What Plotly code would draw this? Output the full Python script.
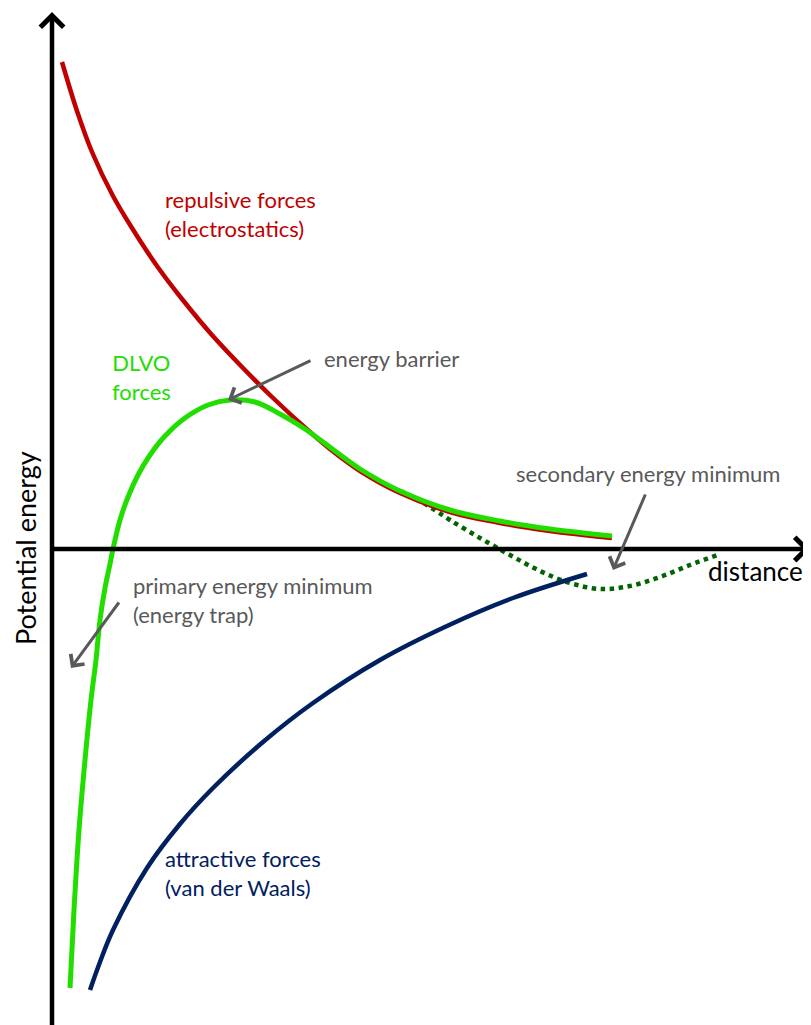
import plotly.graph_objects as go

# Chart units: distance (x) and potential energy (y); origin where the axes cross
repulsive_x = [10, 25, 40, 61, 80, 105, 130, 160, 190, 220, 258, 283, 308, 348, 398, 448, 498, 560]
repulsive_y = [487, 438, 397, 353, 321, 283, 250, 214, 182, 152, 117, 96, 78, 56, 37, 26, 18, 11]

dlvo_x = [18, 22, 27, 33, 39, 44, 48, 53, 58, 61, 68, 76, 86, 98, 113, 133, 156, 178, 203, 228, 253, 283, 308, 348, 398, 448, 498, 560]
dlvo_y = [-439, -361, -281, -211, -151, -111, -71, -39, -15, 0, 29, 52, 74, 94, 113, 131, 144, 149, 147, 135, 120, 98, 80, 58, 39, 28, 20, 13]

secondary_x = [348, 363, 378, 398, 428, 458, 488, 518, 548, 578, 608, 638, 668]
secondary_y = [58, 51, 42, 29, 11, -6, -22, -34, -40, -37, -28, -16, -5]

attractive_x = [38, 48, 61, 95, 128, 161, 211, 261, 328, 395, 461, 535]
attractive_y = [-441, -413, -381, -319, -275, -239, -193, -154, -111, -77, -49, -25]

FONT = "Lato"
RED = "#c00000"
GREEN = "#22dd00"
DKGREEN = "#006400"
NAVY = "#002060"
GREY = "#595959"

fig = go.Figure()
fig.add_trace(go.Scatter(x=secondary_x, y=secondary_y, mode="lines",
                         line=dict(color=DKGREEN, width=4.5, dash="dot", shape="spline"),
                         hoverinfo="skip"))
fig.add_trace(go.Scatter(x=repulsive_x, y=repulsive_y, mode="lines",
                         line=dict(color=RED, width=4.5, shape="spline"), hoverinfo="skip"))
fig.add_trace(go.Scatter(x=attractive_x, y=attractive_y, mode="lines",
                         line=dict(color=NAVY, width=4.5, shape="spline"), hoverinfo="skip"))
fig.add_trace(go.Scatter(x=dlvo_x, y=dlvo_y, mode="lines",
                         line=dict(color=GREEN, width=5, shape="spline"), hoverinfo="skip"))

ann = []
# axes with arrowheads
ann.append(dict(x=0, y=537, ax=0, ay=-484, xref="x", yref="y", axref="x", ayref="y",
                text="", showarrow=True, arrowhead=4, arrowwidth=4.5, arrowsize=1.0,
                arrowcolor="black", standoff=0, startstandoff=0))
ann.append(dict(x=758, y=0, ax=0, ay=0, xref="x", yref="y", axref="x", ayref="y",
                text="", showarrow=True, arrowhead=4, arrowwidth=4.5, arrowsize=1.0,
                arrowcolor="black", standoff=0, startstandoff=0))

# pointer arrows
for (hx, hy, tx, ty) in [(176, 149, 260, 189), (561, -21, 594, 56), (19, -119, 68, -52)]:
    ann.append(dict(x=hx, y=hy, ax=tx, ay=ty, xref="x", yref="y", axref="x", ayref="y",
                    text="", showarrow=True, arrowhead=4, arrowwidth=3, arrowsize=1.1,
                    arrowcolor=GREY, standoff=0, startstandoff=0))

def label(x, y, text, color, size=22, xanchor="left", align="left", angle=0):
    return dict(x=x, y=y, xref="x", yref="y", text=text, showarrow=False,
                xanchor=xanchor, yanchor="middle", align=align, textangle=angle,
                font=dict(family=FONT, size=size, color=color))

ann.append(label(111, 335, "repulsive forces<br>(electrostatics)", RED))
ann.append(label(89, 172, "DLVO<br>forces", GREEN, xanchor="center", align="center"))
ann.append(label(270, 191, "energy barrier", GREY))
ann.append(label(462, 76, "secondary energy minimum", GREY))
ann.append(label(79, -51, "primary energy minimum<br>(energy trap)", GREY))
ann.append(label(111, -324, "attractive forces<br>(van der Waals)", NAVY))
ann.append(label(654, -22, "distance", "black", size=26))
ann.append(label(-27, 1, "Potential energy", "black", size=27, xanchor="center", align="center", angle=-90))

fig.update_layout(
    width=811, height=1025,
    margin=dict(l=0, r=0, t=0, b=0),
    paper_bgcolor="white", plot_bgcolor="white",
    showlegend=False,
    xaxis=dict(range=[-44, 767], visible=False, fixedrange=True),
    yaxis=dict(range=[-484, 541], visible=False, fixedrange=True),
    annotations=ann,
)

fig.write_html("out.html")
